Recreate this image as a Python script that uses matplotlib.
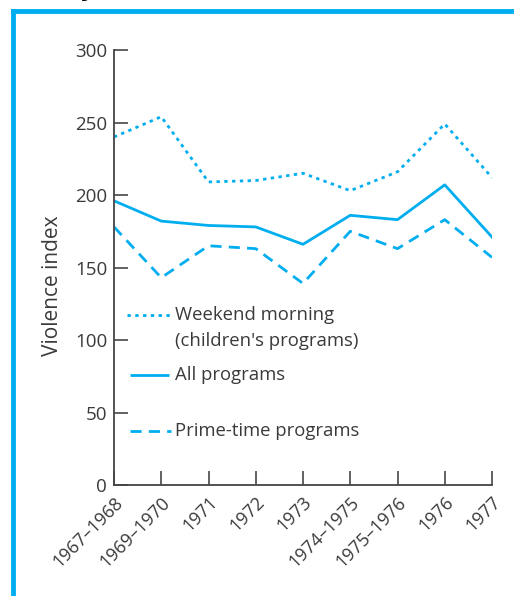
import matplotlib
matplotlib.use('Agg')
import matplotlib.pyplot as plt
from matplotlib.lines import Line2D

# Données
periods = ['1967–1968', '1969–1970', '1971', '1972', '1973',
           '1974–1975', '1975–1976', '1976', '1977']
weekend = [240, 254, 209, 210, 215, 203, 216, 249, 212]
all_programs = [196, 182, 179, 178, 166, 186, 183, 207, 171]
prime_time = [178, 143, 165, 163, 139, 175, 163, 183, 157]
y_ticks = [0, 50, 100, 150, 200, 250, 300]

blue = '#00AEEF'
text_col = '#3a3a3a'
plt.rcParams['font.family'] = ['Open Sans', 'DejaVu Sans']

fig = plt.figure(figsize=(5.14, 5.96), dpi=100)
ax = fig.add_axes([0.2218, 0.1862, 0.7354, 0.7299])

x = list(range(len(periods)))
ax.plot(x, weekend, color=blue, lw=2, linestyle=(0, (1.2, 1.6)))
ax.plot(x, all_programs, color=blue, lw=2, linestyle='-')
ax.plot(x, prime_time, color=blue, lw=2, linestyle=(0, (4, 2.6)))

ax.set_xlim(0, len(periods) - 1)
ax.set_ylim(0, 300)
ax.set_yticks(y_ticks)
ax.set_xticks(x)
ax.set_xticklabels(periods, rotation=45, ha='right', rotation_mode='anchor')

for s in ['top', 'right']:
    ax.spines[s].set_visible(False)
for s in ['left', 'bottom']:
    ax.spines[s].set_color('#444444')
    ax.spines[s].set_linewidth(1.3)
ax.tick_params(direction='in', length=10, width=1.3, color='#555555',
               labelsize=13.5, labelcolor=text_col)
ax.tick_params(axis='x', pad=6, labelsize=13)
ax.tick_params(axis='y', pad=5)
ax.set_ylabel('Violence index', fontsize=15, color=text_col)
ax.yaxis.set_label_coords(-0.135, 0.457)

# Légende dessinée à la main
def legend_line(y, x0, x1, style, label):
    ax.plot([x0, x1], [y, y], color=blue, lw=2, linestyle=style,
            solid_capstyle='butt', clip_on=False)
    ax.text(1.3, y, label, fontsize=13.3, color=text_col, va='center', ha='left')

legend_line(117, 0.28, 1.22, (0, (1.2, 1.6)), 'Weekend morning')
ax.text(1.3, 99, "(children's programs)", fontsize=13.3, color=text_col,
        va='center', ha='left')
legend_line(76, 0.34, 1.16, '-', 'All programs')
legend_line(37, 0.34, 1.2, (0, (4, 2.6)), 'Prime-time programs')

# Cadre bleu
fig.add_artist(Line2D([0.026, 0.026], [0, 0.9815], color=blue, lw=3.5,
                      transform=fig.transFigure))
fig.add_artist(Line2D([0.026, 1.0], [0.9815, 0.9815], color=blue, lw=3.5,
                      transform=fig.transFigure, solid_capstyle='projecting'))
# reste du titre coupé en haut
fig.text(0.158, 1.0105, 'y', fontsize=20, fontweight='bold', color='black',
         va='baseline', ha='left')

plt.savefig('out.png', dpi=100)
plt.close(fig)
